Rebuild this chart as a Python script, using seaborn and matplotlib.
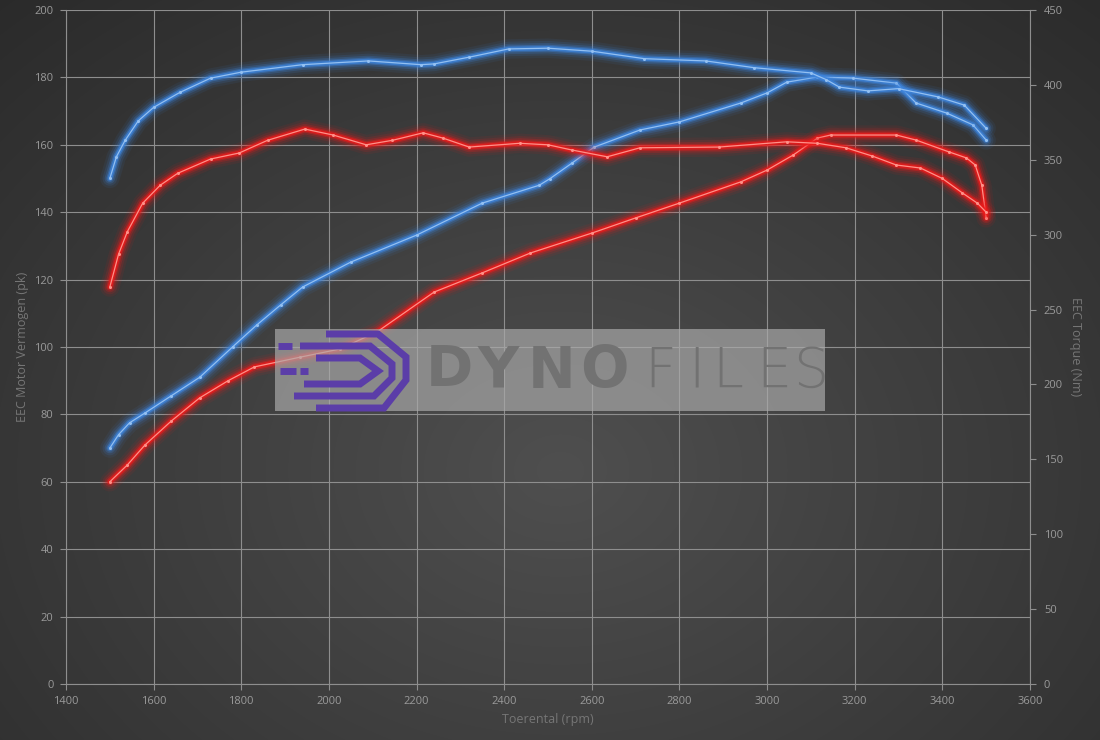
import matplotlib
matplotlib.use("Agg")
import matplotlib.pyplot as plt
import seaborn as sns
import numpy as np
from matplotlib.patches import Rectangle
from matplotlib.lines import Line2D

# ---- data ----
# power (pk, left axis)
rpm_pow_blue = [1500, 1520, 1545, 1580, 1640, 1705, 1780, 1835, 1890, 1940, 2050, 2200, 2350, 2480,
                2505, 2555, 2605, 2710, 2800, 2940, 3000, 3045, 3115, 3195, 3295, 3340, 3410,
                3470, 3500]
pow_blue = [70, 74, 77.5, 80.4, 85.5, 91, 100, 106.5, 112.5, 117.8, 125.2, 133.2, 142.7, 148,
            150, 154.6, 159.3, 164.4, 166.8, 172.4, 175.4, 178.6, 180.1, 179.8, 178.3, 172.4,
            169.4, 165.9, 161.4]

rpm_pow_red = [1500, 1540, 1580, 1640, 1705, 1770, 1830, 1935, 2025, 2110, 2240, 2350, 2460,
               2600, 2700, 2800, 2940, 3000, 3060, 3115, 3145, 3295, 3340, 3415, 3455, 3475,
               3490, 3500]
pow_red = [60, 65, 70.9, 78, 84.9, 90, 94.1, 97, 99.4, 104.5, 116.3, 122, 127.9, 133.8,
           138.3, 142.7, 149, 152.5, 157, 162, 162.9, 162.9, 161.4, 157.9, 156.1, 154,
           148, 138.3]

# torque (Nm, right axis)
rpm_trq_blue = [1500, 1515, 1535, 1565, 1600, 1660, 1730, 1800, 1940, 2090, 2210, 2240, 2320,
                2410, 2500, 2600, 2720, 2860, 2970, 3100, 3135, 3165, 3230, 3300, 3390, 3450,
                3500]
trq_blue = [337.5, 352, 363, 376, 385, 395, 404.5, 408.5, 413.5, 416, 413.5, 414, 418.5,
            424, 424.5, 422.5, 417.5, 416, 411.5, 408, 403.5, 398.5, 396, 397.5, 392, 386.5,
            371]

rpm_trq_red = [1500, 1520, 1540, 1575, 1615, 1655, 1730, 1795, 1860, 1945, 2010, 2085, 2145,
               2215, 2260, 2320, 2435, 2500, 2555, 2635, 2710, 2890, 3045, 3115, 3180, 3240,
               3295, 3350, 3400, 3445, 3480, 3500]
trq_red = [265, 287, 302, 321, 333, 341, 350.5, 354.5, 363, 370.5, 366.5, 360, 363, 368,
           364.5, 358.5, 361, 360, 356.5, 352, 358, 358.5, 362, 361, 358, 352.5, 346.5,
           344.5, 337.5, 328, 321, 315]

x_ticks = list(range(1400, 3601, 200))
pk_ticks = list(range(0, 201, 20))
nm_ticks = list(range(0, 451, 50))

sns.set_style("dark")
plt.rcParams['font.family'] = ['Open Sans', 'DejaVu Sans']

W, H = 1100, 740
fig = plt.figure(figsize=(11, 7.4), dpi=100)


def px(x, y):
    return x / W, 1 - y / H


# radial dark background
bg = fig.add_axes([0, 0, 1, 1], zorder=-10)
yy, xx = np.mgrid[0:H, 0:W]
r = np.sqrt(((xx - 560) / 720.0) ** 2 + ((yy - 470) / 560.0) ** 2)
shade = np.clip(0.31 - 0.125 * r, 0.16, 0.32)
bg.imshow(np.dstack([shade] * 3), aspect='auto', extent=[0, 1, 0, 1])
bg.axis('off')

ax = fig.add_axes([66 / W, 1 - 684 / H, (1030 - 66) / W, (684 - 10) / H])
ax.patch.set_alpha(0)
ax2 = ax.twinx()
ax2.patch.set_alpha(0)

grid_c = '#8e8e8e'
tick_c = '#9a9a9a'
label_c = '#767676'


def glow(axis, x, y, c_glow, c_core):
    for lw, a in [(14, 0.08), (10.5, 0.13), (7.5, 0.22), (5, 0.4), (3.2, 0.75)]:
        sns.lineplot(x=x, y=y, ax=axis, color=c_glow, lw=lw, alpha=a, sort=False,
                     estimator=None, legend=False, solid_capstyle='round',
                     solid_joinstyle='round')
    sns.lineplot(x=x, y=y, ax=axis, color=c_core, lw=0.9, sort=False, estimator=None,
                 legend=False, marker='o', markersize=2.2, markeredgewidth=0)


blue_glow, blue_core = '#3d84dc', '#93c0f2'
red_glow, red_core = '#ec1a1a', '#ff9088'

glow(ax, rpm_pow_blue, pow_blue, blue_glow, blue_core)
glow(ax, rpm_pow_red, pow_red, red_glow, red_core)
glow(ax2, rpm_trq_blue, trq_blue, blue_glow, blue_core)
glow(ax2, rpm_trq_red, trq_red, red_glow, red_core)

ax.set_xlim(1400, 3600)
ax.set_ylim(0, 200)
ax2.set_ylim(0, 450)
ax.set_xticks(x_ticks)
ax.set_yticks(pk_ticks)
ax2.set_yticks(nm_ticks)

ax.grid(True, color=grid_c, lw=0.8)
ax2.grid(False)
for a in (ax, ax2):
    for s in a.spines.values():
        s.set_visible(False)
ax.spines['left'].set_visible(True)
ax.spines['left'].set_color(grid_c)
ax.spines['bottom'].set_visible(True)
ax.spines['bottom'].set_color(grid_c)
ax2.spines['right'].set_visible(True)
ax2.spines['right'].set_color(grid_c)

ax.tick_params(axis='both', colors=grid_c, labelcolor=tick_c, labelsize=8,
               length=4, width=0.8, direction='out', pad=5,
               left=True, bottom=True)
ax2.tick_params(axis='y', colors=grid_c, labelcolor=tick_c, labelsize=8,
                length=4, width=0.8, direction='out', pad=6, right=True)

ax.set_xlabel("Toerental (rpm)", color=label_c, fontsize=9, labelpad=4)
ax.set_ylabel("EEC Motor Vermogen (pk)", color=label_c, fontsize=9, labelpad=4)
ax2.set_ylabel("EEC Torque (Nm)", color=label_c, fontsize=9, rotation=270, labelpad=14)

# watermark
x0, y0 = px(275, 411)
fig.add_artist(Rectangle((x0, y0), 550 / W, 82 / H, transform=fig.transFigure,
                         facecolor='#ababab', alpha=0.68, edgecolor='none', zorder=5))
purple = '#5b3da8'
logo = [
    [(326, 334), (378, 334), (406, 357), (406, 380), (384, 408), (316, 408)],
    [(300, 346), (370, 346), (392, 364), (392, 378), (374, 396), (294, 396)],
    [(316, 358), (360, 358), (378, 371), (360, 384), (304, 384)],
    [(278, 346), (292, 346)],
    [(280, 371), (296, 371)],
    [(300, 371), (308, 371)],
]
for pts in logo:
    xs = [p[0] / W for p in pts]
    ys = [1 - p[1] / H for p in pts]
    fig.add_artist(Line2D(xs, ys, transform=fig.transFigure, color=purple, lw=5,
                          solid_joinstyle='miter', solid_capstyle='butt', zorder=6))

for ch, xp in zip("DYNO", [426, 478, 528, 580]):
    tx, ty = px(xp, 372)
    fig.text(tx, ty, ch, fontsize=41, fontweight='bold', color='#727272',
             va='center', ha='left', family='DejaVu Sans', zorder=7)
for ch, xp in zip("FILES", [644, 688, 712, 756, 793]):
    tx, ty = px(xp, 372)
    fig.text(tx, ty, ch, fontsize=40, fontweight='light', color='#727272',
             va='center', ha='left', family='DejaVu Sans', zorder=7)

fig.savefig("out.png", dpi=100)
